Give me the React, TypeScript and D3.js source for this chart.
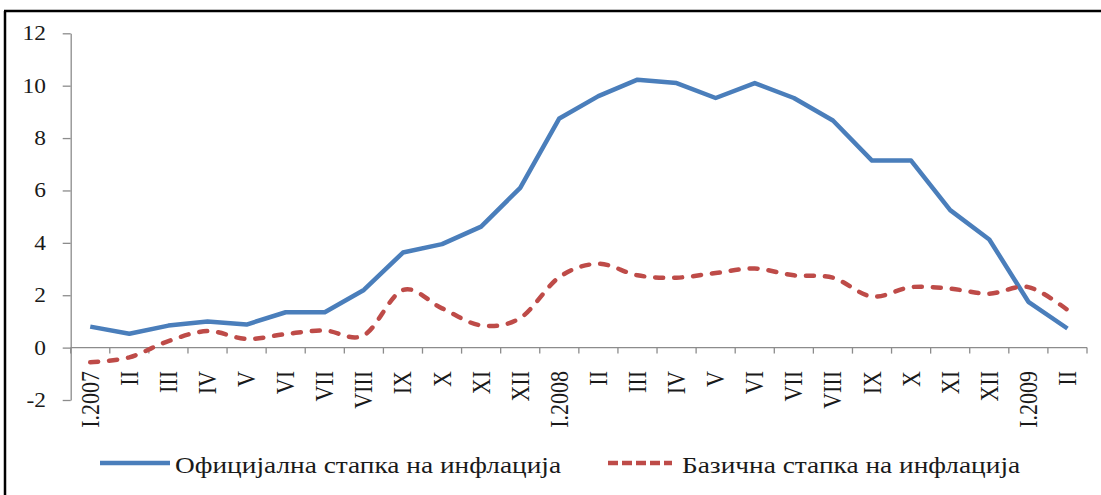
import React, { useEffect, useRef } from "react";
import * as d3 from "d3";

const months = [
  "I.2007", "II", "III", "IV", "V", "VI", "VII", "VIII", "IX", "X", "XI", "XII",
  "I.2008", "II", "III", "IV", "V", "VI", "VII", "VIII", "IX", "X", "XI", "XII",
  "I.2009", "II",
];
// официјална стапка на инфлација
const official = [
  0.8, 0.53, 0.84, 1.0, 0.88, 1.35, 1.35, 2.2, 3.63, 3.95, 4.62, 6.1,
  8.75, 9.6, 10.23, 10.1, 9.53, 10.1, 9.53, 8.67, 7.14, 7.14, 5.25, 4.13,
  1.75, 0.73,
];
// базична стапка на инфлација
const core = [
  -0.56, -0.37, 0.25, 0.63, 0.33, 0.52, 0.65, 0.47, 2.2, 1.5, 0.85, 1.13,
  2.69, 3.2, 2.76, 2.67, 2.85, 3.02, 2.76, 2.67, 1.95, 2.31, 2.25, 2.06,
  2.31, 1.44,
];
const yTicks = [-2, 0, 2, 4, 6, 8, 10, 12];
const legendLabels = ["Официјална стапка на инфлација", "Базична стапка на инфлација"];

const W = 1101;
const H = 495;
const FONT = "'Liberation Serif', 'Times New Roman', serif";
const SX = 1.17; // the picture is a little wider than tall

export default function App() {
  const ref = useRef<SVGSVGElement>(null);

  useEffect(() => {
    const svg = d3.select(ref.current);
    svg.selectAll("*").remove();

    const left = 70.7;
    const right = 1087;
    const top = 33.3;
    const bottom = 400;

    const x = d3.scaleBand<number>().domain(d3.range(months.length)).range([left, right]);
    const y = d3.scaleLinear().domain([-2, 12]).range([bottom, top]);
    const cx = (i: number) => x(i)! + x.bandwidth() / 2;

    // frame
    svg.append("line").attr("x1", 4).attr("x2", W).attr("y1", 11).attr("y2", 11)
      .attr("stroke", "#000").attr("stroke-width", 2.5);
    svg.append("line").attr("x1", 5).attr("x2", 5).attr("y1", 11).attr("y2", H)
      .attr("stroke", "#000").attr("stroke-width", 2.5);

    // y axis
    const yAxis = svg.append("g").attr("transform", `translate(${left},0)`)
      .call(d3.axisLeft(y).tickValues(yTicks).tickSize(8).tickSizeOuter(0).tickFormat(() => ""));
    yAxis.selectAll("path, line").attr("stroke", "#8c8c8c").attr("stroke-width", 1.3);

    svg.append("g").selectAll("text").data(yTicks).join("text")
      .attr("transform", (d) => `translate(46,${y(d)}) scale(${SX},1)`)
      .attr("text-anchor", "end")
      .attr("dy", "0.35em")
      .attr("font-family", FONT)
      .attr("font-size", 20)
      .attr("fill", "#1a1a1a")
      .text((d) => d);

    // x axis at zero
    const y0 = y(0);
    svg.append("line").attr("x1", left).attr("x2", right).attr("y1", y0).attr("y2", y0)
      .attr("stroke", "#8c8c8c").attr("stroke-width", 1.3);
    svg.append("g").selectAll("line").data(d3.range(months.length + 1)).join("line")
      .attr("x1", (i) => left + i * x.step())
      .attr("x2", (i) => left + i * x.step())
      .attr("y1", y0).attr("y2", y0 + 6)
      .attr("stroke", "#8c8c8c").attr("stroke-width", 1.3);

    svg.append("g").selectAll("text").data(months).join("text")
      .attr("transform", (_, i) => `translate(${cx(i)},371) scale(${SX},1) rotate(-90)`)
      .attr("text-anchor", "end")
      .attr("dy", "0.33em")
      .attr("font-family", FONT)
      .attr("font-size", 22)
      .attr("fill", "#1a1a1a")
      .text((d) => d);

    // lines
    const straight = d3.line<number>().x((_, i) => cx(i)).y((d) => y(d));
    const smooth = d3.line<number>().x((_, i) => cx(i)).y((d) => y(d))
      .curve(d3.curveCardinal.tension(0));

    svg.append("path").datum(official)
      .attr("fill", "none").attr("stroke", "#4a7ebb").attr("stroke-width", 4.5)
      .attr("stroke-linejoin", "round")
      .attr("d", straight);

    svg.append("path").datum(core)
      .attr("fill", "none").attr("stroke", "#be4b48").attr("stroke-width", 4.5)
      .attr("stroke-dasharray", "8,11").attr("stroke-linecap", "round")
      .attr("d", smooth);

    // legend
    const ly = 463;
    svg.append("line").attr("x1", 100).attr("x2", 170).attr("y1", ly).attr("y2", ly)
      .attr("stroke", "#4a7ebb").attr("stroke-width", 4.5);
    svg.append("line").attr("x1", 608).attr("x2", 672).attr("y1", ly).attr("y2", ly)
      .attr("stroke", "#be4b48").attr("stroke-width", 4.5)
      .attr("stroke-dasharray", "10,4");
    [175, 682].forEach((lx, i) => {
      svg.append("text")
        .attr("transform", `translate(${lx},472.5) scale(1.19,1)`)
        .attr("font-family", FONT)
        .attr("font-size", 23)
        .attr("fill", "#1a1a1a")
        .text(legendLabels[i]);
    });
  }, []);

  return (
    <svg
      ref={ref}
      width={W}
      height={H}
      style={{ position: "absolute", left: 0, top: 0, background: "#fff" }}
    />
  );
}
